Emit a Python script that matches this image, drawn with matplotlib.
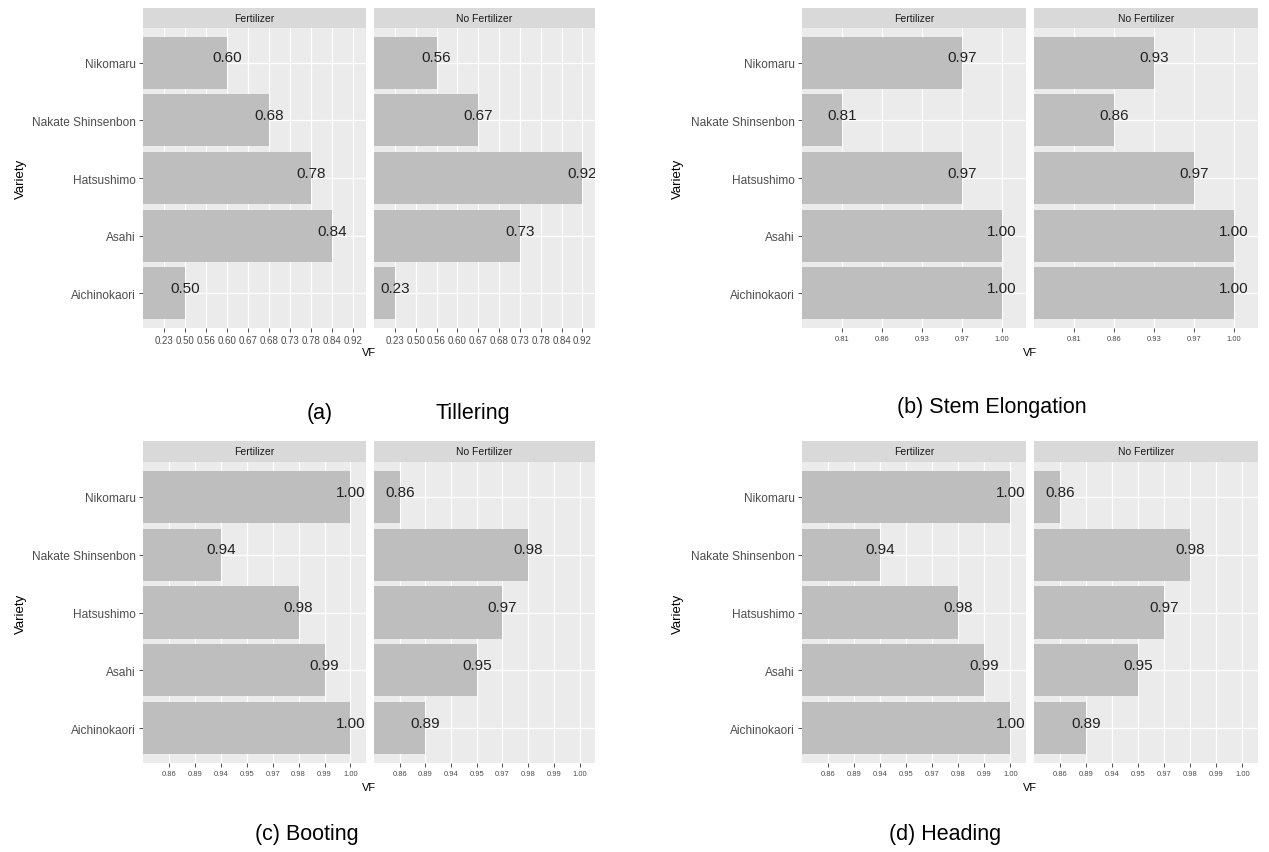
import matplotlib
matplotlib.use("Agg")
import matplotlib.pyplot as plt
import numpy as np

plt.rcParams["font.family"] = ["Liberation Sans", "DejaVu Sans"]

# Varieties from bottom to top of each panel
varieties = ["Aichinokaori", "Asahi", "Hatsushimo", "Nakate Shinsenbon", "Nikomaru"]
facets = ["Fertilizer", "No Fertilizer"]

# VF per growth stage, same variety order as above
tillering_fert = [0.50, 0.84, 0.78, 0.68, 0.60]
tillering_nofert = [0.23, 0.73, 0.92, 0.67, 0.56]
stem_fert = [1.00, 1.00, 0.97, 0.81, 0.97]
stem_nofert = [1.00, 1.00, 0.97, 0.86, 0.93]
booting_fert = [1.00, 0.99, 0.98, 0.94, 1.00]
booting_nofert = [0.89, 0.95, 0.97, 0.98, 0.86]
heading_fert = [1.00, 0.99, 0.98, 0.94, 1.00]
heading_nofert = [0.89, 0.95, 0.97, 0.98, 0.86]

W, H = 1269, 853
fig = plt.figure(figsize=(W / 100, H / 100), dpi=100)


def rect(x0, y0, x1, y1):
    return [x0 / W, 1 - y1 / H, (x1 - x0) / W, (y1 - y0) / H]


BAR = "#BEBEBE"
PANEL = "#EBEBEB"
STRIP = "#D9D9D9"


def stage_plot(fert, nofert, xs, ys, ylab_x, xtick_size):
    """VF is treated as a discrete scale shared by both facets."""
    levels = sorted(set(f"{v:.2f}" for v in fert + nofert))
    nlev = len(levels)
    strip_top, panel_top, panel_bot = ys
    for k, (vals, name) in enumerate(zip([fert, nofert], facets)):
        x0, x1 = xs[k]
        sax = fig.add_axes(rect(x0, strip_top, x1, panel_top))
        sax.set_facecolor(STRIP)
        sax.set_xticks([]); sax.set_yticks([])
        for s in sax.spines.values():
            s.set_visible(False)
        sax.text(0.5, 0.5, name, transform=sax.transAxes, ha="center",
                 va="center", fontsize=7.5, color="#1A1A1A")

        ax = fig.add_axes(rect(x0, panel_top, x1, panel_bot))
        ax.set_facecolor(PANEL)
        for s in ax.spines.values():
            s.set_visible(False)
        pos = [levels.index(f"{v:.2f}") + 1 for v in vals]
        ypos = np.arange(1, len(varieties) + 1)
        for lv in range(1, nlev + 1):
            ax.axvline(lv, color="white", lw=0.9, zorder=0)
        for yv in ypos:
            ax.axhline(yv, color="white", lw=0.9, zorder=0)
        ax.barh(ypos, pos, height=0.9, color=BAR, zorder=2)
        for yv, p, v in zip(ypos, pos, vals):
            ax.text(p, yv + 0.09, f"{v:.2f}", ha="center", va="center",
                    fontsize=11, color="#222222", zorder=3, clip_on=True)
        ax.set_xlim(0, nlev + 0.6)
        ax.set_ylim(0.4, len(varieties) + 0.6)
        ax.set_xticks(range(1, nlev + 1))
        ax.set_xticklabels(levels)
        ax.tick_params(axis="x", length=3, width=0.6, color="#333333",
                       labelsize=xtick_size, labelcolor="#4D4D4D", pad=2)
        ax.set_yticks(ypos)
        if k == 0:
            ax.set_yticklabels(varieties)
            ax.tick_params(axis="y", length=3, width=0.6, color="#333333",
                           labelsize=8.6, labelcolor="#4D4D4D", pad=2)
        else:
            ax.tick_params(axis="y", length=0, labelleft=False)
    xmid = (xs[0][0] + xs[1][1]) / 2
    fig.text(xmid / W, 1 - (panel_bot + 24) / H, "VF", ha="center",
             va="center", fontsize=8, color="black")
    fig.text(ylab_x / W, 1 - ((panel_top + panel_bot) / 2) / H, "Variety",
             ha="center", va="center", rotation=90, fontsize=9.5, color="black")


left_x = [(143, 366), (374, 595)]
right_x = [(802, 1026), (1034, 1258)]
top_y = (9, 29, 329)
bot_y = (442, 463, 764)

stage_plot(tillering_fert, tillering_nofert, left_x, top_y, 21, 7)
stage_plot(stem_fert, stem_nofert, right_x, top_y, 678, 5.5)
stage_plot(booting_fert, booting_nofert, left_x, bot_y, 21, 5.5)
stage_plot(heading_fert, heading_nofert, right_x, bot_y, 678, 5.5)

cap = dict(ha="center", va="center", fontsize=15.5, color="black")
fig.text(320 / W, 1 - 413 / H, "(a)", **cap)
fig.text(473 / W, 1 - 413 / H, "Tillering", **cap)
fig.text(992 / W, 1 - 408 / H, "(b) Stem Elongation", **cap)
fig.text(307 / W, 1 - 835 / H, "(c) Booting", **cap)
fig.text(945 / W, 1 - 835 / H, "(d) Heading", **cap)

fig.savefig("out.png", dpi=100, facecolor="white")
